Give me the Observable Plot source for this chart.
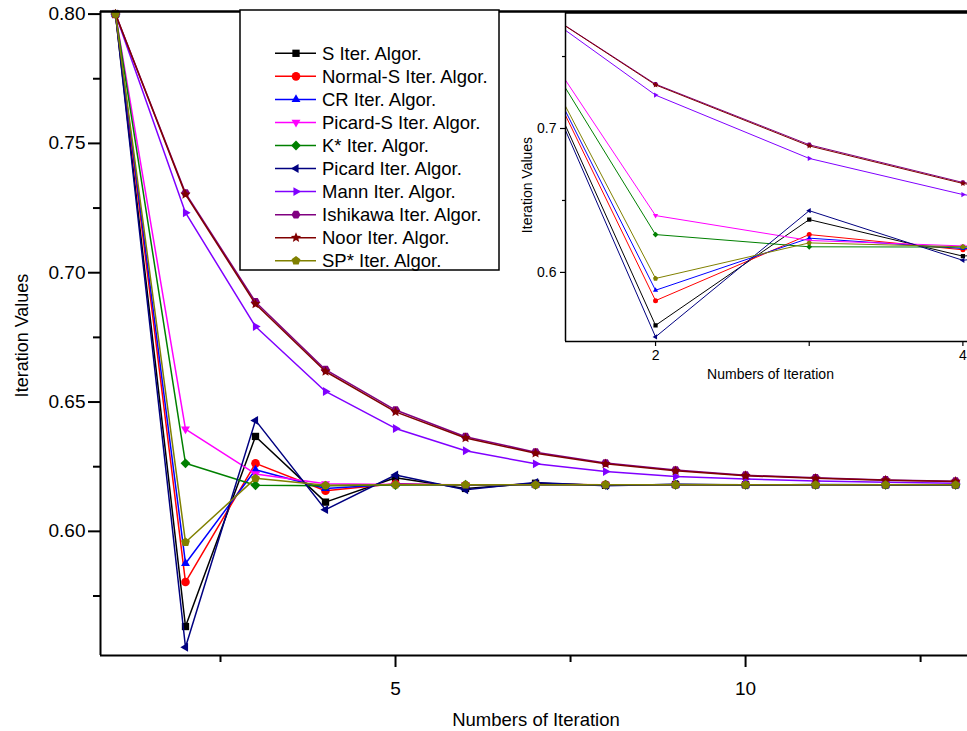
<!DOCTYPE html>
<html><head><meta charset="utf-8">
<script src="https://cdn.jsdelivr.net/npm/d3@7"></script>
<script src="https://cdn.jsdelivr.net/npm/@observablehq/plot@0.6"></script>
<style>
html,body{margin:0;padding:0;background:#fff;}
#wrap{position:relative;width:967px;height:731px;overflow:hidden;font-family:"Liberation Sans",Arial,sans-serif;}
#wrap > svg{position:absolute;}
</style></head><body><div id="wrap"></div>
<script>
// ---------- data ----------
const iterations = [1,2,3,4,5,6,7,8,9,10,11,12,13];
const seriesNames = ["S Iter. Algor.","Normal-S Iter. Algor.","CR Iter. Algor.","Picard-S Iter. Algor.","K* Iter. Algor.","Picard Iter. Algor.","Mann Iter. Algor.","Ishikawa Iter. Algor.","Noor Iter. Algor.","SP* Iter. Algor."];
const seriesColors = ["#000000","#ff0000","#0000ff","#ff00ff","#008000","#000080","#8000ff","#800080","#800000","#808000"];
const sIter    = [0.80,0.5632,0.6367,0.6113,0.6207,0.6166,0.6186,0.6178,0.6181,0.6180,0.6180,0.6180,0.6180];
const normalS  = [0.80,0.5804,0.6263,0.6157,0.6184,0.6178,0.6181,0.6180,0.6180,0.6180,0.6180,0.6180,0.6180];
const crIter   = [0.80,0.5876,0.6238,0.6166,0.6182,0.6179,0.6180,0.6180,0.6180,0.6180,0.6180,0.6180,0.6180];
const picardS  = [0.80,0.6395,0.6222,0.6184,0.6181,0.6180,0.6180,0.6180,0.6180,0.6180,0.6180,0.6180,0.6180];
const kStar    = [0.80,0.6263,0.6178,0.6176,0.6179,0.6180,0.6180,0.6180,0.6180,0.6180,0.6180,0.6180,0.6180];
const picard   = [0.80,0.5552,0.6429,0.6084,0.6218,0.6161,0.6189,0.6176,0.6182,0.6179,0.6181,0.6180,0.6180];
const mann     = [0.80,0.7232,0.6792,0.6541,0.6398,0.6312,0.6261,0.6231,0.6212,0.6202,0.6195,0.6190,0.6186];
const ishikawa = [0.80,0.7308,0.6887,0.6625,0.6469,0.6366,0.6306,0.6264,0.6237,0.6217,0.6207,0.6199,0.6194];
const noor     = [0.80,0.7303,0.6879,0.6618,0.6462,0.6361,0.6302,0.6261,0.6234,0.6215,0.6205,0.6198,0.6193];
const spStar   = [0.80,0.5958,0.6205,0.6178,0.6180,0.6180,0.6180,0.6180,0.6180,0.6180,0.6180,0.6180,0.6180];
const seriesValues = [sIter,normalS,crIter,picardS,kStar,picard,mann,ishikawa,noor,spStar];

const mainYMajor = [0.60,0.65,0.70,0.75,0.80];
const mainYMinor = [0.575,0.625,0.675,0.725,0.775];
const mainXMajor = [5,10];
const mainXMinor = [2.5,7.5,12.5];
const insetYMajor = [0.6,0.7];
const insetYMinor = [0.65,0.75];
const insetXMajor = [2,4];
const insetXMinor = [3];

// ---------- symbols ----------
function poly(n, rot, k) {
  return {draw(ctx, size) {
    const r = Math.sqrt(size / Math.PI) * k;
    for (let i = 0; i < n; i++) {
      const a = rot + i * 2 * Math.PI / n;
      const px = r * Math.cos(a), py = r * Math.sin(a);
      if (i) ctx.lineTo(px, py); else ctx.moveTo(px, py);
    }
    ctx.closePath();
  }};
}
const square = {draw(ctx, size){ const h = Math.sqrt(size/Math.PI)*0.85; ctx.moveTo(-h,-h); ctx.lineTo(h,-h); ctx.lineTo(h,h); ctx.lineTo(-h,h); ctx.closePath(); }};
const circle = {draw(ctx, size){ const r = Math.sqrt(size/Math.PI); ctx.moveTo(r,0); ctx.arc(0,0,r,0,2*Math.PI); }};
const star = {draw(ctx, size){ const R = Math.sqrt(size/Math.PI)*1.25, r = R*0.45; for (let i=0;i<10;i++){ const a = -Math.PI/2 + i*Math.PI/5; const rr = i%2? r : R; const px = rr*Math.cos(a), py = rr*Math.sin(a); if(i) ctx.lineTo(px,py); else ctx.moveTo(px,py);} ctx.closePath(); }};
const seriesSymbols = [
  square, circle, poly(3,-Math.PI/2,1.2), poly(3,Math.PI/2,1.2), poly(4,-Math.PI/2,1.15),
  poly(3,Math.PI,1.2), poly(3,0,1.2), poly(6,0,1.05), star, poly(5,-Math.PI/2,1.08)
];

const rows = seriesNames.map((name, s) => iterations.map((it, i) => ({series: name, x: it, y: seriesValues[s][i]})));

const FONT = '"Liberation Sans", Arial, sans-serif';
const wrap = document.getElementById("wrap");

function seriesMarks(r, sw, clip) {
  const out = [];
  rows.forEach((data, s) => {
    out.push(Plot.line(data, {x: "x", y: "y", stroke: seriesColors[s], strokeWidth: sw, clip}));
    out.push(Plot.dot(data, {x: "x", y: "y", fill: seriesColors[s], stroke: "none", r, symbol: seriesSymbols[s], clip}));
  });
  return out;
}

// ---------- main chart ----------
const mX = [0.786, 13.17], mY = [0.552, 0.801];
const main = Plot.plot({
  width: 967, height: 731,
  marginLeft: 100, marginRight: 0, marginTop: 11, marginBottom: 76,
  x: {domain: mX},
  y: {domain: mY},
  style: {fontFamily: FONT, fontSize: "18px", color: "black", background: "transparent", overflow: "visible"},
  marks: [
    Plot.axisY({ticks: mainYMajor, tickSize: 12, tickPadding: 3, tickFormat: d3.format(".2f"), strokeWidth: 2, fontSize: 19, label: null}),
    Plot.axisY({ticks: mainYMinor, tickSize: 7, tickFormat: () => "", strokeWidth: 2, label: null}),
    Plot.axisX({ticks: mainXMajor, tickSize: 12, tickPadding: 14, strokeWidth: 2, fontSize: 19, label: null}),
    Plot.axisX({ticks: mainXMinor, tickSize: 7, tickFormat: () => "", strokeWidth: 2, label: null}),
    ...seriesMarks(4.3, 1.5, false),
    Plot.ruleX([mX[0]], {strokeWidth: 2}),
    Plot.ruleY([mY[0]], {strokeWidth: 2}),
    Plot.ruleY([mY[1]], {strokeWidth: 2.5}),
    Plot.text(["Iteration Values"], {frameAnchor: "left", rotate: -90, dx: -78, dy: 2, textAnchor: "middle", lineAnchor: "middle", fontSize: 18}),
    Plot.text(["Numbers of Iteration"], {frameAnchor: "bottom", dx: 2, dy: 65, textAnchor: "middle", lineAnchor: "middle", fontSize: 18.5})
  ]
});
main.style.left = "0px"; main.style.top = "0px";
wrap.appendChild(main);

// ---------- legend ----------
const leg = d3.create("svg").attr("width", 967).attr("height", 731).style("left","0px").style("top","0px").style("pointer-events","none");
leg.append("rect").attr("x", 240).attr("y", 10).attr("width", 259).attr("height", 260).attr("fill", "white").attr("stroke", "black").attr("stroke-width", 1.5);
seriesNames.forEach((name, i) => {
  const cy = 53.3 + i * 23.05;
  const g = leg.append("g");
  g.append("line").attr("x1", 275).attr("x2", 316).attr("y1", cy).attr("y2", cy).attr("stroke", seriesColors[i]).attr("stroke-width", 1.5);
  const p = d3.path(); seriesSymbols[i].draw(p, 4.3*4.3*Math.PI);
  g.append("path").attr("d", p.toString()).attr("transform", `translate(296,${cy})`).attr("fill", seriesColors[i]);
  g.append("text").attr("x", 322).attr("y", cy).attr("dy", "0.35em").attr("font-family", FONT).attr("font-size", 18.5).attr("fill", "black").text(name);
});
wrap.appendChild(leg.node());

// ---------- inset ----------
const iX = [1.414, 4.03], iY = [0.552, 0.7806];
const inset = Plot.plot({
  width: 462, height: 400,
  marginLeft: 60, marginRight: 0, marginTop: 12, marginBottom: 59,
  x: {domain: iX},
  y: {domain: iY},
  style: {fontFamily: FONT, fontSize: "14px", color: "black", background: "transparent", overflow: "visible"},
  marks: [
    Plot.axisY({ticks: insetYMajor, tickSize: 5, tickPadding: 4, tickFormat: d3.format(".1f"), strokeWidth: 1.2, fontSize: 14, label: null}),
    Plot.axisY({ticks: insetYMinor, tickSize: 3, tickFormat: () => "", strokeWidth: 1.2, label: null}),
    Plot.axisX({ticks: insetXMajor, tickSize: 5, tickPadding: 4, tickFormat: d3.format("d"), strokeWidth: 1.2, fontSize: 14, label: null}),
    Plot.axisX({ticks: insetXMinor, tickSize: 5, tickFormat: () => "", strokeWidth: 1.2, label: null}),
    ...seriesMarks(2.5, 1, true),
    Plot.ruleX([iX[0]], {strokeWidth: 1.5}),
    Plot.ruleY([iY[0]], {strokeWidth: 1.5}),
    Plot.ruleY([iY[1]], {strokeWidth: 2.5}),
    Plot.text(["Iteration Values"], {frameAnchor: "left", rotate: -90, dx: -38, dy: 8, textAnchor: "middle", lineAnchor: "middle", fontSize: 14}),
    Plot.text(["Numbers of Iteration"], {frameAnchor: "bottom", dx: 4, dy: 33, textAnchor: "middle", lineAnchor: "middle", fontSize: 14})
  ]
});
inset.style.left = "505px"; inset.style.top = "0px";
wrap.appendChild(inset);
</script></body></html>
